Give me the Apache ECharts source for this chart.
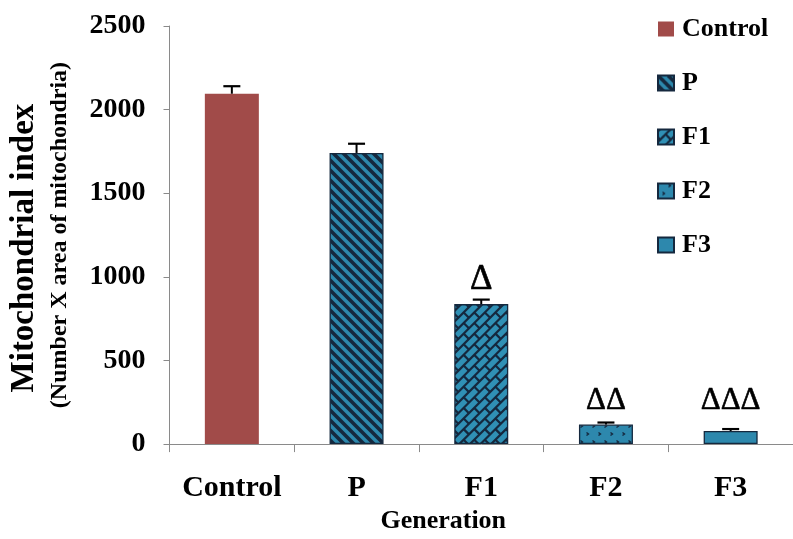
<!DOCTYPE html>
<html><head><meta charset="utf-8">
<script src="https://cdn.jsdelivr.net/npm/echarts@6/dist/echarts.min.js"></script>
<style>html,body{margin:0;padding:0;background:#fff}#c{width:793px;height:539px}</style>
</head><body><div id="c"></div>
<script>
const categories = ['Control', 'P', 'F1', 'F2', 'F3'];
const values = [2095, 1741, 837, 117, 78];
const errors = [45, 55, 27, 12, 12];
const marks = ['', '', 'Δ', 'ΔΔ', 'ΔΔΔ'];
const yTicks = [0, 500, 1000, 1500, 2000, 2500];

const TEAL = '#2d88ad', DARK = '#15283e', RED = '#a14b49';
const FONT = '"Liberation Serif", "Times New Roman", serif';

function makeFill(kind) {
  if (kind === 'control') return RED;
  if (kind === 'plain') return TEAL;
  const c = document.createElement('canvas');
  c.width = 800; c.height = 540;
  const g = c.getContext('2d');
  g.fillStyle = kind === 'brick' ? '#3090b5' : TEAL;
  g.fillRect(0, 0, 800, 540);
  g.strokeStyle = DARK; g.fillStyle = DARK;
  if (kind === 'stripes') {
    g.lineWidth = 3.6;
    for (let k = -600; k < 900; k += 10) {
      g.beginPath(); g.moveTo(k, 0); g.lineTo(k + 540, 540); g.stroke();
    }
  } else if (kind === 'brick') {
    g.translate(400, 270); g.rotate(-Math.PI / 4);
    g.lineWidth = 2.2;
    const rh = 7.5, bl = 15;
    for (let j = -70; j < 70; j++) {
      const y = j * rh;
      g.beginPath(); g.moveTo(-700, y); g.lineTo(700, y); g.stroke();
      for (let i = -50; i < 50; i++) {
        const x = i * bl + ((j & 1) ? bl / 2 : 0);
        g.beginPath(); g.moveTo(x, y); g.lineTo(x, y + rh); g.stroke();
      }
    }
  } else if (kind === 'dots') {
    g.lineWidth = 1.4;
    for (let y = 2; y < 540; y += 8) {
      for (let x = ((y / 8) % 2 < 1 ? 0 : 6); x < 800; x += 12) {
        g.beginPath(); g.moveTo(x - 1.5, y - 1.5); g.lineTo(x + 0.5, y); g.lineTo(x - 1.5, y + 1.5); g.stroke();
      }
    }
  }
  return { image: c, repeat: 'repeat' };
}

const kinds = ['control', 'stripes', 'brick', 'dots', 'plain'];
const fills = kinds.map(makeFill);

const chart = echarts.init(document.getElementById('c'), null, { renderer: 'canvas' });

const barSeries = categories.map((name, i) => ({
  name: name,
  type: 'bar',
  barWidth: 54,
  barGap: '-100%',
  data: values.map((v, j) => (j === i ? v : '-')),
  itemStyle: {
    color: fills[i],
    borderColor: i === 0 ? RED : DARK,
    borderWidth: i === 0 ? 0 : 1.3
  },
  emphasis: { disabled: true },
  z: 2
}));

const errSeries = {
  type: 'custom',
  name: 'error',
  silent: true,
  z: 5,
  encode: { x: 0, y: 1 },
  data: values.map((v, i) => [i, v, errors[i]]),
  renderItem: function (params, api) {
    const i = api.value(0), v = api.value(1), e = api.value(2);
    const p0 = api.coord([i, v]);
    const p1 = api.coord([i, v + e]);
    const children = [
      { type: 'line', shape: { x1: p0[0], y1: p0[1], x2: p1[0], y2: p1[1] }, style: { stroke: '#000', lineWidth: 2 } },
      { type: 'line', shape: { x1: p1[0] - 8.5, y1: p1[1], x2: p1[0] + 8.5, y2: p1[1] }, style: { stroke: '#000', lineWidth: 2.2 } }
    ];
    const m = marks[params.dataIndex];
    if (m) {
      const base = api.coord([i, 0])[1];
      const fs = m.length === 1 ? 35 : 31;
      const yb = Math.min(p1[1] - 15, base - 39);
      children.push({
        type: 'text',
        style: { text: m, x: p1[0], y: yb + 0.37 * fs, align: 'center', verticalAlign: 'bottom',
                 font: fs + 'px ' + FONT, fill: '#000', stroke: '#000', lineWidth: 0.6 }
      });
    }
    return { type: 'group', children: children };
  }
};

chart.setOption({
  animation: false,
  backgroundColor: '#fff',
  grid: { left: 169, top: 26, bottom: 87, width: 632, containLabel: false },
  legend: {
    orient: 'vertical',
    left: 652,
    top: 11,
    itemWidth: 16,
    itemHeight: 15,
    itemGap: 28,
    icon: 'rect',
    data: categories,
    textStyle: { fontFamily: FONT, fontWeight: 'bold', fontSize: 26, color: '#000', padding: [0, 0, 0, 3] },
    selectedMode: false
  },
  xAxis: {
    type: 'category',
    data: categories,
    name: 'Generation',
    nameLocation: 'middle',
    nameGap: 63,
    nameTextStyle: { fontFamily: FONT, fontWeight: 'bold', fontSize: 26, color: '#000', padding: [0, 76, 0, 0] },
    axisLine: { lineStyle: { color: '#8a8a8a', width: 1 } },
    axisTick: { show: true, length: 8, lineStyle: { color: '#8a8a8a' } },
    axisLabel: { interval: 0, margin: 29, fontFamily: FONT, fontWeight: 'bold', fontSize: 30, color: '#000' }
  },
  yAxis: {
    type: 'value',
    min: yTicks[0],
    max: yTicks[yTicks.length - 1],
    interval: yTicks[1] - yTicks[0],
    name: '{a|Mitochondrial index}\n{b|(Number X area of mitochondria)}',
    nameLocation: 'middle',
    nameRotate: 90,
    nameGap: 94,
    nameTextStyle: {
      color: '#000',
      rich: {
        a: { fontFamily: FONT, fontWeight: 'bold', fontSize: 33, lineHeight: 38, color: '#000', padding: [0, 26, 0, 0] },
        b: { fontFamily: FONT, fontWeight: 'bold', fontSize: 24, lineHeight: 32, color: '#000' }
      }
    },
    splitLine: { show: false },
    axisLine: { show: true, lineStyle: { color: '#8a8a8a', width: 1 } },
    axisTick: { show: true, length: 6, lineStyle: { color: '#8a8a8a' } },
    axisLabel: { margin: 24, fontFamily: FONT, fontWeight: 'bold', fontSize: 28, color: '#000',
                 formatter: function (v) { return String(v); } }
  },
  series: barSeries.concat([errSeries])
});
</script></body></html>
